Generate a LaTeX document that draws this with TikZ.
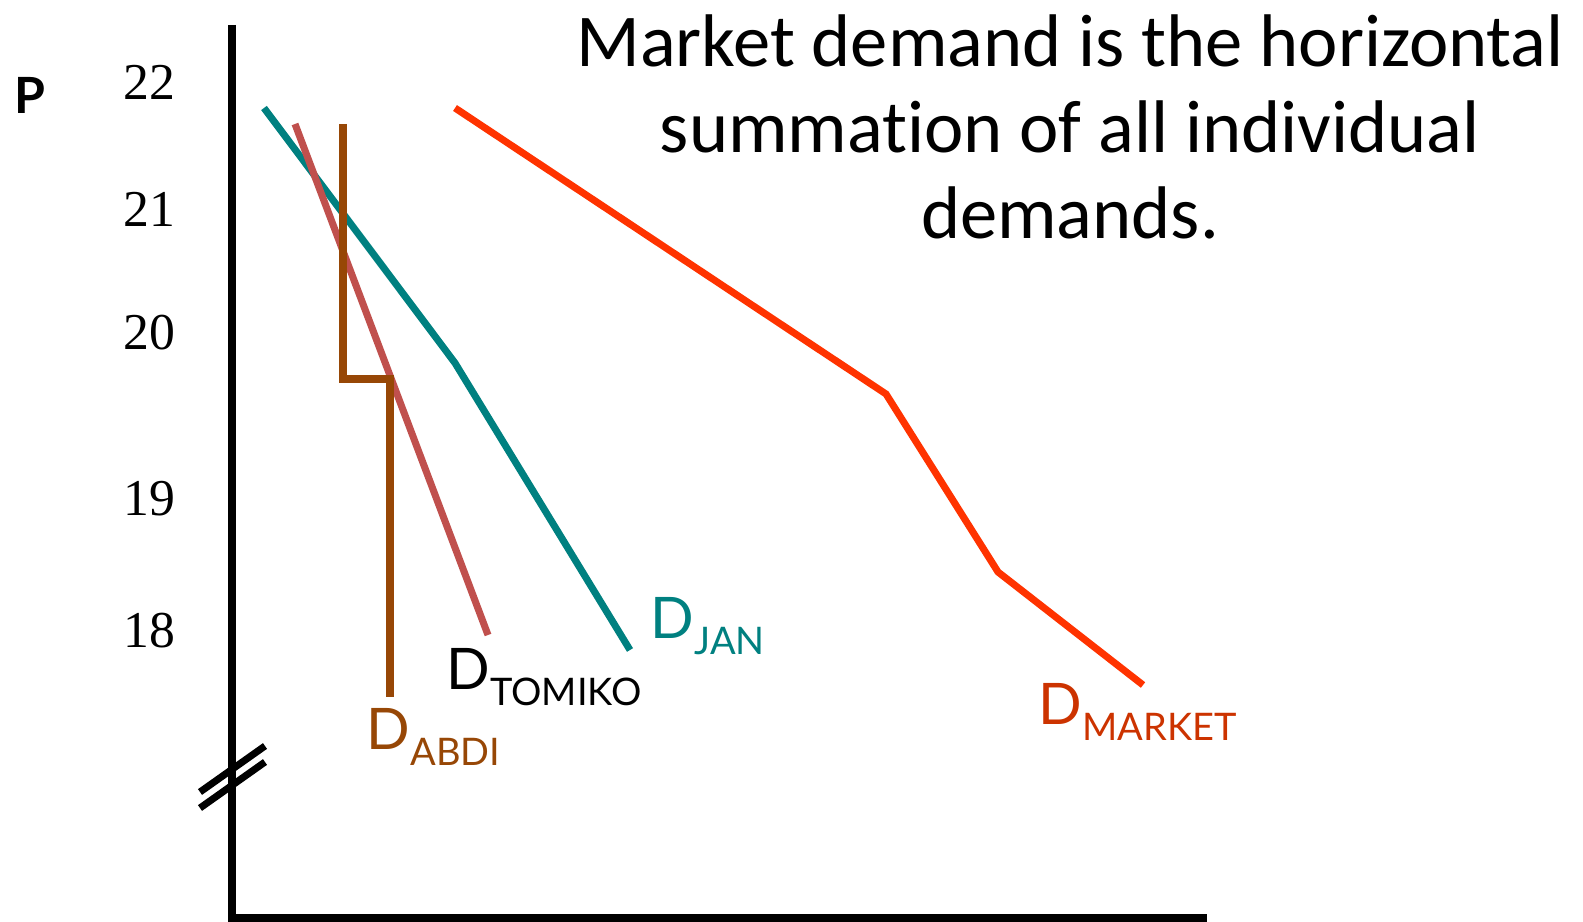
\documentclass[tikz,border=0pt]{standalone}
\usepackage{fontspec}
\setmainfont{Carlito}[Ligatures=NoCommon]
\newfontfamily\numfont{Liberation Serif}
\newfontfamily\labfont{Lato}
\definecolor{janteal}{RGB}{0,128,128}
\definecolor{tomred}{RGB}{192,80,77}
\definecolor{abdibrown}{RGB}{151,71,6}
\definecolor{mktred}{RGB}{255,51,0}
\definecolor{mktlab}{RGB}{204,51,0}
\newcommand{\demlab}[1]{D\raisebox{-4.8pt}{\fontsize{10.8}{13}\selectfont #1}}
\tikzset{
  numlabel/.style={anchor=base east, inner sep=0pt, font=\numfont\fontsize{14.7}{17}\selectfont},
  dlabel/.style={anchor=base west, inner sep=0pt, font=\labfont\fontsize{16.3}{19}\selectfont},
  curve/.style={line width=2pt}
}
\begin{document}
\begin{tikzpicture}[x=0.01cm, y=-0.01cm]
    \useasboundingbox (0,0) rectangle (1583,922);
    % axes
    \draw[line width=2.2pt] (232,25)--(232,918)--(1207,918);
    \draw[line width=2pt] (200,792)--(265,746);
    \draw[line width=2pt] (200,808)--(265,762);
    \node[anchor=base west, inner sep=0pt, font=\labfont\bfseries\fontsize{14.2}{17}\selectfont] (plab) at (14,114) {P};
    \foreach \p/\yy in {22/100,21/227,20/350,19/515,18/647}
    {
        \node[numlabel] (p\p) at (176,\yy) {\p};
    }
    % demand curves
    \draw[curve, janteal] (264,108)--(455,363)--(630,650);
    \draw[curve, tomred] (295,124)--(488,635);
    \draw[curve, abdibrown] (343,124)--(343,379)--(390,379)--(390,697);
    \draw[curve, mktred] (455,108)--(886,394)--(998,572)--(1143,685);

    \node[dlabel, janteal] (djan) at (650,638) {\demlab{JAN}};
    \node[dlabel] (dtomiko) at (446,689) {\demlab{TOMIKO}};
    \node[dlabel, abdibrown] (dabdi) at (366,749) {\demlab{ABDI}};
    \node[dlabel, mktlab] (dmarket) at (1038,724) {\demlab{MARKET}};

    \node[align=center, font=\fontsize{21.2}{24.5}\selectfont, anchor=north] (title) at (1070,2)
        {Market demand is the horizontal\\summation of all individual\\demands.};
\end{tikzpicture}
\end{document}
